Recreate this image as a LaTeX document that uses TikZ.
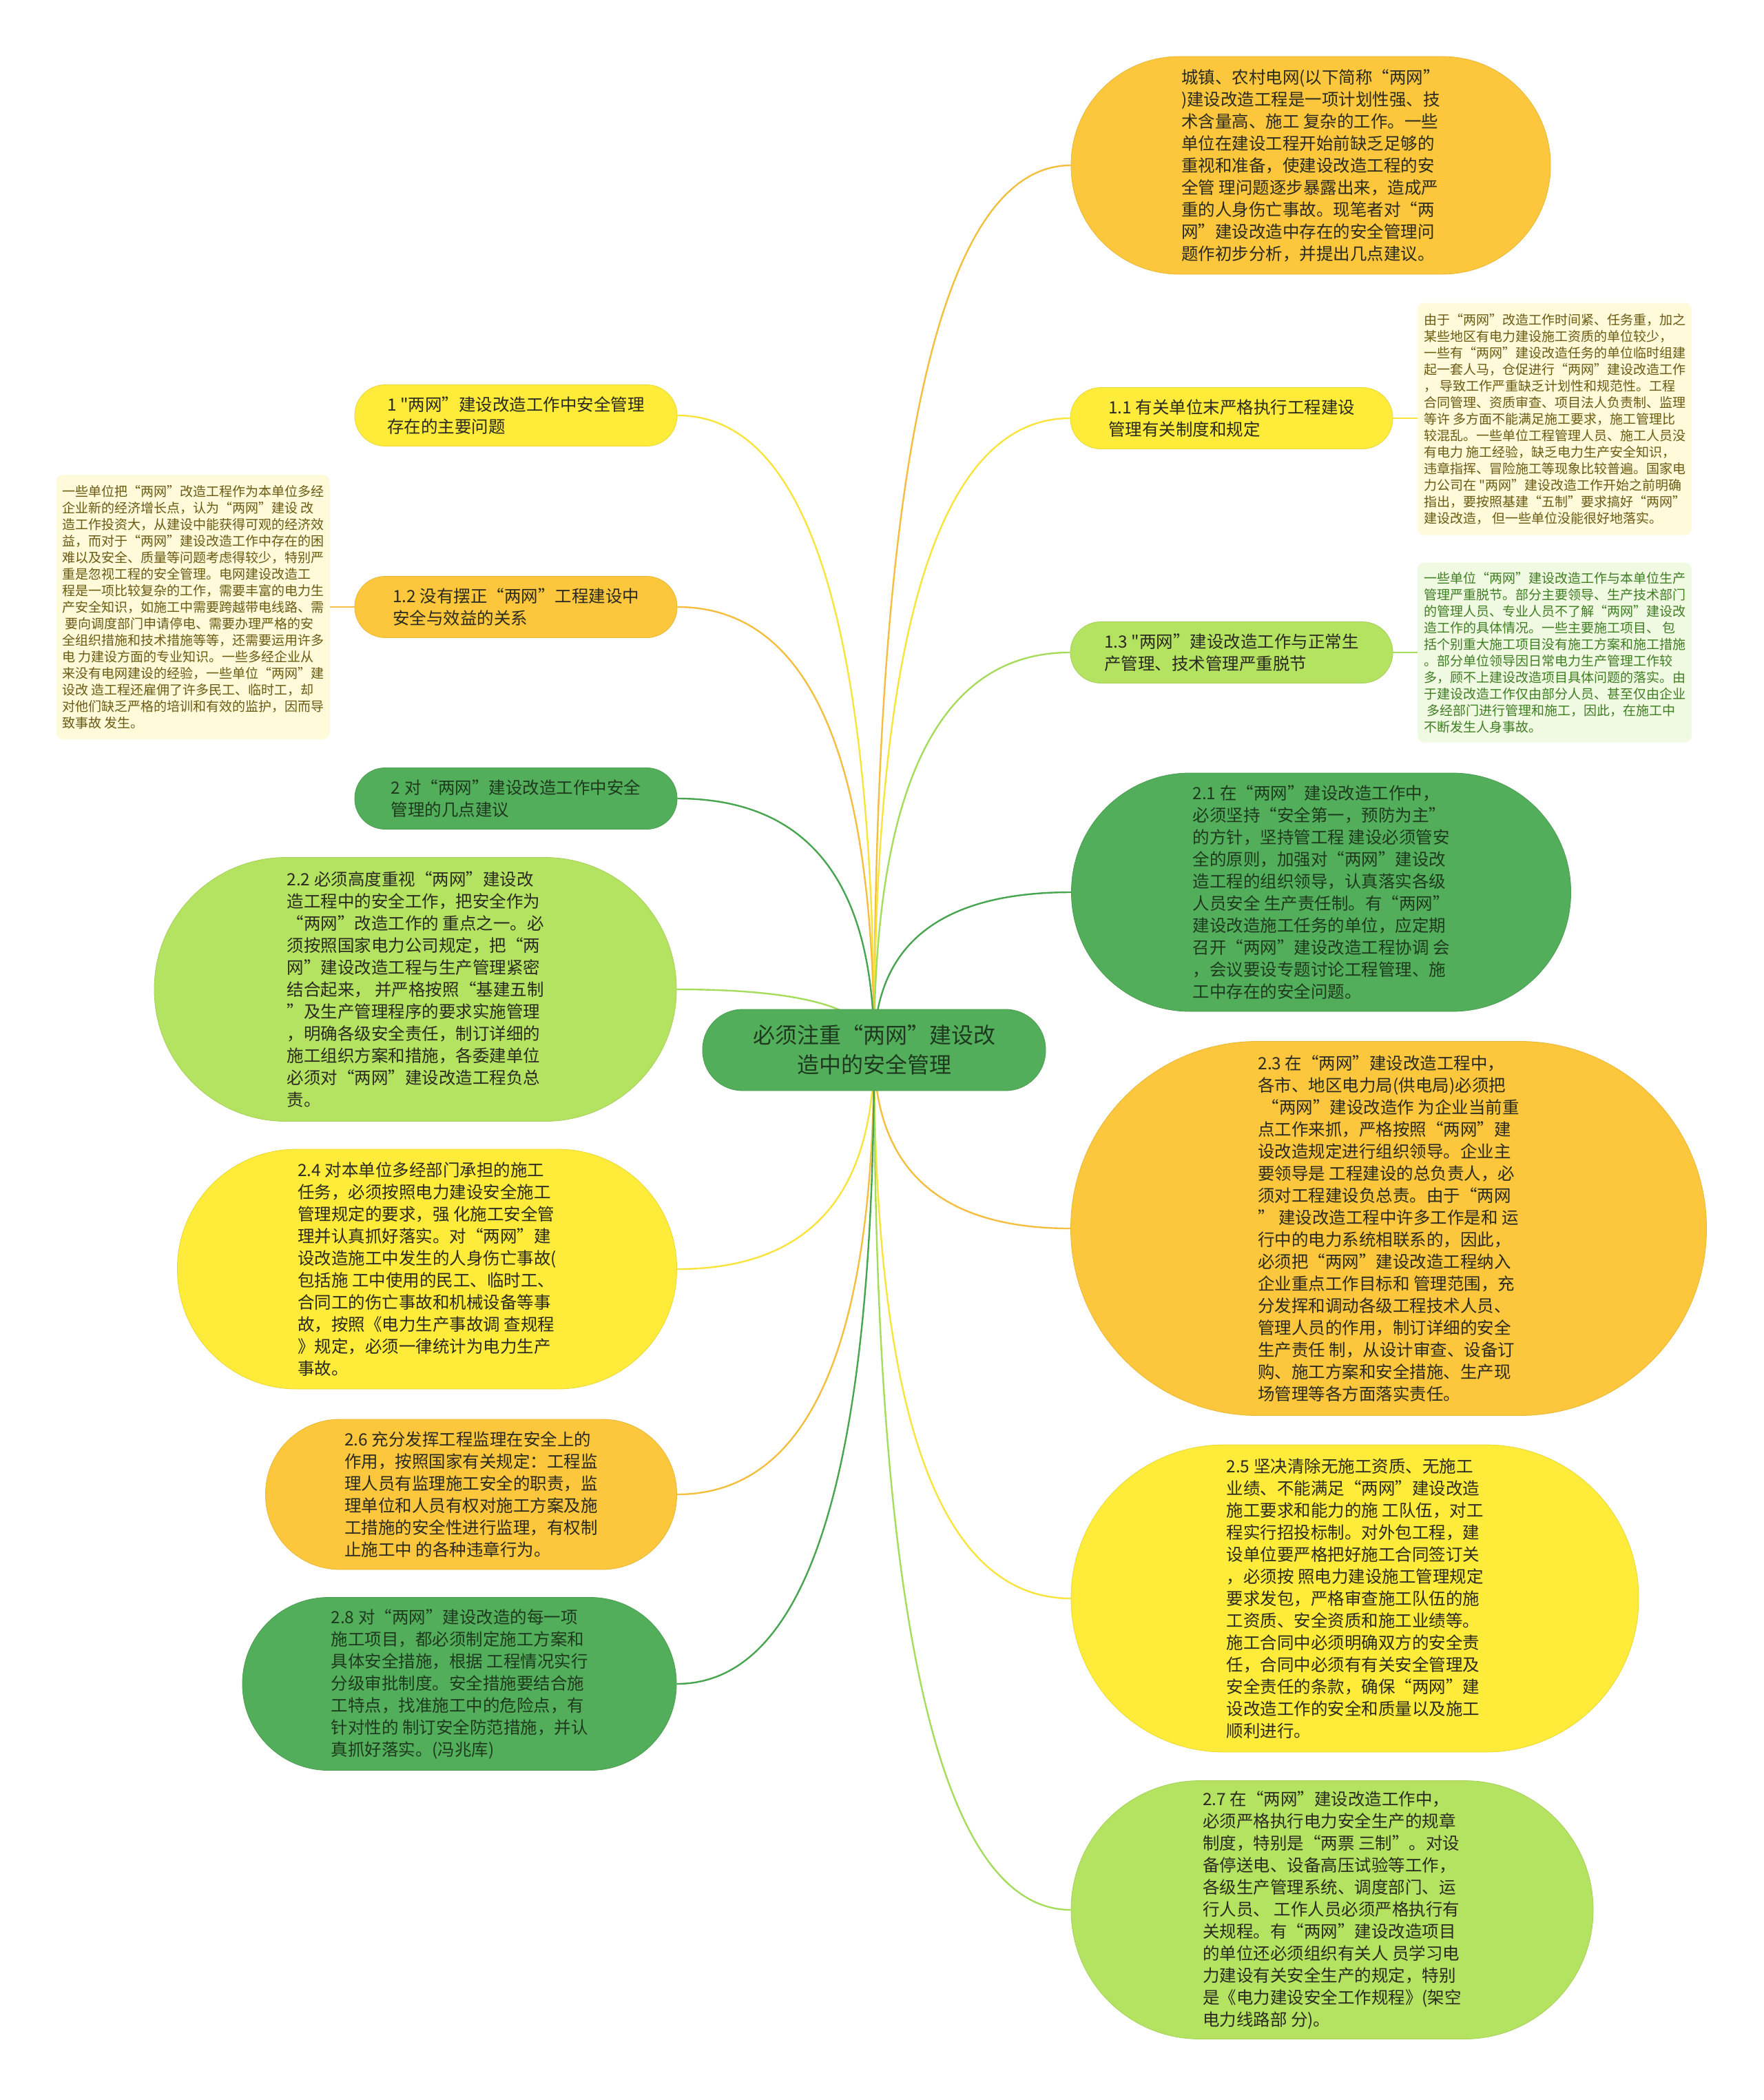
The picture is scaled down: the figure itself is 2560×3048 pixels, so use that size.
\documentclass[tikz,border=0pt]{standalone}
\usepackage{fontspec}
\setmainfont{Noto Sans CJK SC}[Ligatures=TeXOff]
\usetikzlibrary{calc,backgrounds}
\definecolor{cOr}{HTML}{FCC73C}
\definecolor{cYe}{HTML}{FEEB3A}
\definecolor{cLg}{HTML}{B4E261}
\definecolor{cGr}{HTML}{53AE5B}
\definecolor{lOr}{HTML}{F4BF3F}
\definecolor{lYe}{HTML}{F9E43C}
\definecolor{lLg}{HTML}{A6DC5C}
\definecolor{lGr}{HTML}{47A54F}
\definecolor{tDark}{HTML}{2A2A20}
\definecolor{tGreen}{HTML}{1E3A1E}
\definecolor{nYbg}{HTML}{FFFADA}
\definecolor{nYtx}{HTML}{6A5A12}
\definecolor{nGbg}{HTML}{F0FAE2}
\definecolor{nGtx}{HTML}{3F7D22}
\newcommand\mfs{\fontsize{24.5pt}{32pt}\selectfont}
\newcommand\nfs{\fontsize{19pt}{24pt}\selectfont}
\newcommand\cfs{\fontsize{32pt}{43pt}\selectfont}
\newcommand\linkto[2]{%
  \coordinate (kk) at (ctr.center |- #2);
  \draw[link, #1] (ctr.center) .. controls ($(ctr.center)!0.6667!(kk)$) and ($(#2)!0.6667!(kk)$) .. (#2);}
\tikzset{
  pillbox/.style={rectangle, inner sep=0pt, align=left, font=\mfs, text=tDark, line width=0.8pt},
  smallpill/.style={pillbox, minimum width=468pt, minimum height=89pt, rounded corners=44pt},
  orfill/.style={fill=cOr, draw=cOr!92!black},
  yefill/.style={fill=cYe, draw=cYe!92!black},
  lgfill/.style={fill=cLg, draw=cLg!92!black},
  grfill/.style={fill=cGr, draw=cGr!90!black, text=tGreen},
  notebox/.style={rectangle, inner sep=0pt, align=left, font=\nfs, rounded corners=10pt, minimum width=398pt},
  link/.style={line width=2.4pt},
}
\begin{document}
\begin{tikzpicture}[x=1pt, y=-1pt]
\useasboundingbox (0,0) rectangle (2560,3048);

% center
\node[pillbox, grfill, align=center, font=\cfs, minimum width=498pt, minimum height=118pt, rounded corners=58pt] (ctr) at (1269,1524)
 {必须注重“两网”建设改\\造中的安全管理};

% top level children
\node[pillbox, orfill, minimum width=696pt, minimum height=316pt, rounded corners=157pt] (intro) at (1903,240)
 {城镇、农村电网(以下简称“两网”\\
)建设改造工程是一项计划性强、技\\
术含量高、施工 复杂的工作。一些\\
单位在建设工程开始前缺乏足够的\\
重视和准备，使建设改造工程的安\\
全管 理问题逐步暴露出来，造成严\\
重的人身伤亡事故。现笔者对“两\\
网”建设改造中存在的安全管理问\\
题作初步分析，并提出几点建议。};

\node[smallpill, yefill] (n1) at (749,603)
 {1 "两网”建设改造工作中安全管理\\存在的主要问题};
\node[smallpill, yefill] (n11) at (1788,607)
 {1.1 有关单位末严格执行工程建设\\管理有关制度和规定};
\node[smallpill, orfill] (n12) at (749,881)
 {1.2 没有摆正“两网”工程建设中\\安全与效益的关系};
\node[smallpill, lgfill] (n13) at (1788,947)
 {1.3 "两网”建设改造工作与正常生\\产管理、技术管理严重脱节};
\node[smallpill, grfill] (n2) at (749,1159)
 {2 对“两网”建设改造工作中安全\\管理的几点建议};

\node[pillbox, grfill, minimum width=725pt, minimum height=346pt, rounded corners=172pt] (n21) at (1918,1295)
 {2.1 在“两网”建设改造工作中，\\
必须坚持“安全第一，预防为主”\\
的方针，坚持管工程 建设必须管安\\
全的原则，加强对“两网”建设改\\
造工程的组织领导，认真落实各级\\
人员安全 生产责任制。有“两网”\\
建设改造施工任务的单位，应定期\\
召开“两网”建设改造工程协调 会\\
，会议要设专题讨论工程管理、施\\
工中存在的安全问题。};

\node[pillbox, lgfill, minimum width=758pt, minimum height=383pt, rounded corners=191pt] (n22) at (603,1436)
 {2.2 必须高度重视“两网”建设改\\
造工程中的安全工作，把安全作为\\
“两网”改造工作的 重点之一。必\\
须按照国家电力公司规定，把“两\\
网”建设改造工程与生产管理紧密\\
结合起来， 并严格按照“基建五制\\
”及生产管理程序的要求实施管理\\
，明确各级安全责任，制订详细的\\
施工组织方案和措施，各委建单位\\
必须对“两网”建设改造工程负总\\
责。};

\node[pillbox, orfill, minimum width=923pt, minimum height=543pt, rounded corners=271pt] (n23) at (2016,1783)
 {2.3 在“两网”建设改造工程中，\\
各市、地区电力局(供电局)必须把\\
\hspace*{0.25em}“两网”建设改造作 为企业当前重\\
点工作来抓，严格按照“两网”建\\
设改造规定进行组织领导。企业主\\
要领导是 工程建设的总负责人，必\\
须对工程建设负总责。由于“两网\\
” 建设改造工程中许多工作是和 运\\
行中的电力系统相联系的，因此，\\
必须把“两网”建设改造工程纳入\\
企业重点工作目标和 管理范围，充\\
分发挥和调动各级工程技术人员、\\
管理人员的作用，制订详细的安全\\
生产责任 制，从设计审查、设备订\\
购、施工方案和安全措施、生产现\\
场管理等各方面落实责任。};

\node[pillbox, yefill, minimum width=725pt, minimum height=348pt, rounded corners=173pt] (n24) at (620,1842)
 {2.4 对本单位多经部门承担的施工\\
任务，必须按照电力建设安全施工\\
管理规定的要求，强 化施工安全管\\
理并认真抓好落实。对“两网”建\\
设改造施工中发生的人身伤亡事故(\\
包括施 工中使用的民工、临时工、\\
合同工的伤亡事故和机械设备等事\\
故，按照《电力生产事故调 查规程\\
》规定，必须一律统计为电力生产\\
事故。};

\node[pillbox, yefill, minimum width=824pt, minimum height=446pt, rounded corners=222pt] (n25) at (1967,2320)
 {2.5 坚决清除无施工资质、无施工\\
业绩、不能满足“两网”建设改造\\
施工要求和能力的施 工队伍，对工\\
程实行招投标制。对外包工程，建\\
设单位要严格把好施工合同签订关\\
，必须按 照电力建设施工管理规定\\
要求发包，严格审查施工队伍的施\\
工资质、安全资质和施工业绩等。\\
施工合同中必须明确双方的安全责\\
任，合同中必须有有关安全管理及\\
安全责任的条款，确保“两网”建\\
设改造工作的安全和质量以及施工\\
顺利进行。};

\node[pillbox, orfill, minimum width=597pt, minimum height=218pt, rounded corners=108pt] (n26) at (684,2169)
 {2.6 充分发挥工程监理在安全上的\\
作用，按照国家有关规定：工程监\\
理人员有监理施工安全的职责，监\\
理单位和人员有权对施工方案及施\\
工措施的安全性进行监理，有权制\\
止施工中 的各种违章行为。};

\node[pillbox, lgfill, minimum width=758pt, minimum height=375pt, rounded corners=187pt] (n27) at (1934,2772)
 {2.7 在“两网”建设改造工作中，\\
必须严格执行电力安全生产的规章\\
制度，特别是“两票 三制”。对设\\
备停送电、设备高压试验等工作，\\
各级生产管理系统、调度部门、运\\
行人员、 工作人员必须严格执行有\\
关规程。有“两网”建设改造项目\\
的单位还必须组织有关人 员学习电\\
力建设有关安全生产的规定，特别\\
是《电力建设安全工作规程》(架空\\
电力线路部 分)。};

\node[pillbox, grfill, minimum width=630pt, minimum height=251pt, rounded corners=125pt] (n28) at (667,2444)
 {2.8 对“两网”建设改造的每一项\\
施工项目，都必须制定施工方案和\\
具体安全措施，根据 工程情况实行\\
分级审批制度。安全措施要结合施\\
工特点，找准施工中的危险点，有\\
针对性的 制订安全防范措施，并认\\
真抓好落实。(冯兆库)};

% notes
\node[notebox, fill=nYbg, text=nYtx, minimum height=337pt] (note1) at (2257,608)
 {由于“两网”改造工作时间紧、任务重，加之\\
某些地区有电力建设施工资质的单位较少，\\
一些有“两网”建设改造任务的单位临时组建\\
起一套人马，仓促进行“两网”建设改造工作\\
， 导致工作严重缺乏计划性和规范性。工程\\
合同管理、资质审查、项目法人负责制、监理\\
等许 多方面不能满足施工要求，施工管理比\\
较混乱。一些单位工程管理人员、施工人员没\\
有电力 施工经验，缺乏电力生产安全知识，\\
违章指挥、冒险施工等现象比较普遍。国家电\\
力公司在 "两网”建设改造工作开始之前明确\\
指出，要按照基建“五制”要求搞好“两网”\\
建设改造， 但一些单位没能很好地落实。};

\node[notebox, fill=nGbg, text=nGtx, minimum height=261pt] (note2) at (2257,947)
 {一些单位“两网”建设改造工作与本单位生产\\
管理严重脱节。部分主要领导、生产技术部门\\
的管理人员、专业人员不了解“两网”建设改\\
造工作的具体情况。一些主要施工项目、 包\\
括个别重大施工项目没有施工方案和施工措施\\
。部分单位领导因日常电力生产管理工作较\\
多，顾不上建设改造项目具体问题的落实。由\\
于建设改造工作仅由部分人员、甚至仅由企业\\
\hspace*{0.25em}多经部门进行管理和施工，因此，在施工中\\
不断发生人身事故。};

\node[notebox, fill=nYbg, text=nYtx, minimum width=397pt, minimum height=384pt] (noteL) at (280,881)
 {一些单位把“两网”改造工程作为本单位多经\\
企业新的经济增长点，认为“两网”建设 改\\
造工作投资大，从建设中能获得可观的经济效\\
益，而对于“两网”建设改造工作中存在的困\\
难以及安全、质量等问题考虑得较少，特别严\\
重是忽视工程的安全管理。电网建设改造工\\
程是一项比较复杂的工作，需要丰富的电力生\\
产安全知识，如施工中需要跨越带电线路、需\\
\hspace*{0.25em}要向调度部门申请停电、需要办理严格的安\\
全组织措施和技术措施等等，还需要运用许多\\
电 力建设方面的专业知识。一些多经企业从\\
来没有电网建设的经验，一些单位“两网”建\\
设改 造工程还雇佣了许多民工、临时工，却\\
对他们缺乏严格的培训和有效的监护，因而导\\
致事故 发生。};

\begin{pgfonlayer}{background}
\fill[white] (0,0) rectangle (2560,3048);
\linkto{lOr}{intro.west}
\linkto{lYe}{n1.east}
\linkto{lYe}{n11.west}
\linkto{lOr}{n12.east}
\linkto{lLg}{n13.west}
\linkto{lGr}{n2.east}
\linkto{lGr}{n21.west}
\linkto{lLg}{n22.east}
\linkto{lOr}{n23.west}
\linkto{lYe}{n24.east}
\linkto{lYe}{n25.west}
\linkto{lOr}{n26.east}
\linkto{lLg}{n27.west}
\linkto{lGr}{n28.east}
\draw[link, lYe] (n11.east) -- (n11.east -| note1.west);
\draw[link, lOr] (n12.west) -- (n12.west -| noteL.east);
\draw[link, lLg] (n13.east) -- (n13.east -| note2.west);
\end{pgfonlayer}
\end{tikzpicture}
\end{document}
